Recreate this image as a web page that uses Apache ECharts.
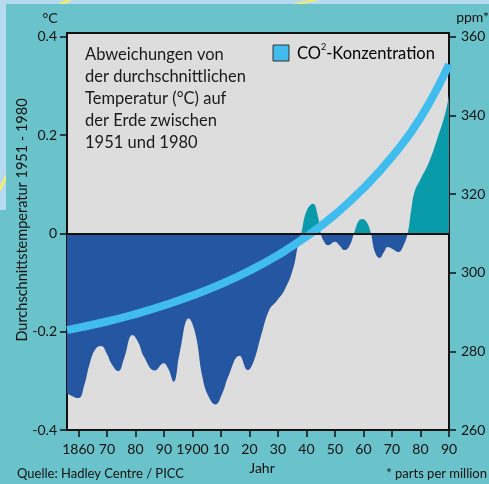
<!DOCTYPE html>
<html lang="de" style="height: 100%">
<head>
  <meta charset="UTF-8">
  <title>Temperaturabweichung und CO2-Konzentration</title>
  <script src="https://cdn.jsdelivr.net/npm/echarts@6/dist/echarts.min.js"></script>
</head>
<body style="height: 100%; margin: 0; background-color: #6ac3ca;">
  <div id="main" style="width: 489px; height: 484px;"></div>

  <script>
  // Jahre und Temperaturabweichung (°C) gegenüber 1951-1980
  const tempYears = [1856, 1860, 1862, 1864, 1866, 1868, 1870, 1871.5, 1874, 1876, 1879, 1881, 1883, 1886.8, 1889.9, 1891.5, 1893.4, 1895.5, 1898.7, 1901, 1903.5, 1905.5, 1908, 1910.5, 1912.5, 1916.5, 1919.4, 1921.5, 1924, 1927, 1929.5, 1932.4, 1935.3, 1937, 1938.2, 1940, 1942.3, 1944, 1945, 1946.3, 1947.6, 1950, 1951.5, 1953.4, 1955.2, 1956.7, 1958.2, 1959.6, 1961.2, 1962.6, 1964, 1965.7, 1967.2, 1968.5, 1970.2, 1972.2, 1974, 1975.5, 1976.8, 1978, 1980, 1983, 1986.3, 1988.5, 1990];
  const tempValues = [-0.325, -0.335, -0.31, -0.264, -0.235, -0.229, -0.245, -0.264, -0.28, -0.255, -0.207, -0.222, -0.251, -0.279, -0.264, -0.275, -0.302, -0.244, -0.173, -0.203, -0.292, -0.33, -0.348, -0.325, -0.292, -0.249, -0.278, -0.26, -0.21, -0.155, -0.138, -0.114, -0.072, -0.025, 0, 0.045, 0.06, 0.035, 0, -0.018, -0.024, -0.017, -0.024, -0.034, -0.024, 0, 0.024, 0.029, 0.022, 0, -0.038, -0.05, -0.038, -0.028, -0.032, -0.038, -0.025, 0, 0.05, 0.086, 0.11, 0.145, 0.2, 0.24, 0.28];

  // CO2-Konzentration (ppm)
  const co2Years = [1856, 1870, 1880, 1890, 1900, 1910, 1920, 1930, 1940, 1950, 1960, 1970, 1980, 1990];
  const co2Values = [285.4, 287.6, 289.5, 291.7, 294.2, 297.1, 300.5, 304.5, 309.2, 314.8, 321.5, 329.5, 339.4, 353];

  // Achsenbeschriftungen
  const xTicks = [1860, 1870, 1880, 1890, 1900, 1910, 1920, 1930, 1940, 1950, 1960, 1970, 1980, 1990];
  const tempTicks = [-0.4, -0.2, 0, 0.2, 0.4];
  const ppmTicks = [260, 280, 300, 320, 340, 360];

  const FONT = 'Lato';
  const chart = echarts.init(document.getElementById('main'));

  const option = {
    backgroundColor: '#6ac3ca',
    textStyle: { fontFamily: FONT },
    grid: {
      left: 67, right: 40, top: 33, bottom: 54,
      show: true,
      backgroundColor: '#dddddd',
      borderColor: '#111',
      borderWidth: 2
    },
    xAxis: {
      type: 'value',
      min: 1856,
      max: 1990,
      splitLine: { show: false },
      axisLine: { onZero: false, lineStyle: { color: '#111', width: 2 } },
      axisTick: { customValues: xTicks, length: 7, lineStyle: { color: '#111', width: 1.5 } },
      axisLabel: {
        customValues: xTicks,
        margin: 12,
        color: '#111',
        fontSize: 14,
        fontFamily: FONT,
        formatter: function (v) {
          if (v === 1860 || v === 1900) return String(v);
          return String(v % 100).padStart(2, '0');
        }
      }
    },
    yAxis: [
      {
        type: 'value',
        min: -0.4,
        max: 0.4075,
        splitLine: { show: false },
        axisLine: { show: true, onZero: false, lineStyle: { color: '#111', width: 2 } },
        axisTick: { show: true, customValues: tempTicks, length: 7, lineStyle: { color: '#111', width: 1.5 } },
        axisLabel: {
          customValues: tempTicks,
          margin: 10,
          color: '#111',
          fontSize: 14,
          fontFamily: FONT,
          formatter: function (v) { return v === 0 ? '0' : String(v); }
        }
      },
      {
        type: 'value',
        position: 'right',
        min: 260,
        max: 361,
        splitLine: { show: false },
        axisLine: { show: true, onZero: false, lineStyle: { color: '#111', width: 2 } },
        axisTick: { show: true, customValues: ppmTicks, length: 7, lineStyle: { color: '#111', width: 1.5 } },
        axisLabel: {
          customValues: ppmTicks,
          margin: 12,
          color: '#111',
          fontSize: 14,
          fontFamily: FONT
        }
      }
    ],
    visualMap: {
      show: false,
      type: 'piecewise',
      seriesIndex: 0,
      dimension: 1,
      pieces: [
        { gt: -1, lte: 0, color: '#2556a2' },
        { gt: 0, lte: 1, color: '#0a9bab' }
      ]
    },
    series: [
      {
        name: 'Temperatur',
        type: 'line',
        smooth: 0.45,
        showSymbol: false,
        silent: true,
        z: 2,
        lineStyle: { width: 0 },
        areaStyle: { opacity: 1 },
        data: tempYears.map((y, i) => [y, tempValues[i]]),
        markLine: {
          silent: true,
          symbol: 'none',
          label: { show: false },
          lineStyle: { color: '#111', width: 2, type: 'solid' },
          data: [{ yAxis: 0 }]
        }
      },
      {
        name: 'CO2-Konzentration',
        type: 'line',
        yAxisIndex: 1,
        smooth: 0.5,
        showSymbol: false,
        silent: true,
        z: 3,
        lineStyle: { width: 8, color: '#41bcef' },
        data: co2Years.map((y, i) => [y, co2Values[i]])
      }
    ],
    graphic: [
      // Hintergrund-Deko oben/links
      { type: 'rect', shape: { x: 0, y: 0, width: 489, height: 4 }, style: { fill: '#b6dbf1' }, silent: true },
      { type: 'rect', shape: { x: 0, y: 0, width: 6, height: 210 }, style: { fill: '#b6dbf1' }, silent: true },
      { type: 'polygon', shape: { points: [[58, 4], [64, 4], [72, 0], [66, 0]] }, style: { fill: '#f4ee6a' }, silent: true },
      { type: 'polygon', shape: { points: [[292, 4], [302, 4], [320, 0], [310, 0]] }, style: { fill: '#f4ee6a' }, silent: true },
      { type: 'polygon', shape: { points: [[0, 186], [0, 192], [6, 180], [6, 174]] }, style: { fill: '#f4ee6a' }, silent: true },
      // Einheiten
      { type: 'text', x: 50, y: 18, style: { text: '°C', font: '14px Lato', fill: '#111', textAlign: 'center', textVerticalAlign: 'middle' } },
      { type: 'text', x: 489, y: 17, style: { text: 'ppm*', font: '14px Lato', fill: '#111', textAlign: 'right', textVerticalAlign: 'middle' } },
      // Achsentitel
      {
        type: 'text', x: 22, y: 220, rotation: Math.PI / 2,
        style: { text: 'Durchschnittstemperatur 1951 - 1980', font: '14.5px Lato', fill: '#111', textAlign: 'center', textVerticalAlign: 'middle' }
      },
      { type: 'text', x: 262, y: 468, style: { text: 'Jahr', font: '14px Lato', fill: '#111', textAlign: 'center', textVerticalAlign: 'middle' } },
      { type: 'text', x: 17, y: 474, style: { text: 'Quelle: Hadley Centre / PICC', font: '13px Lato', fill: '#111', textAlign: 'left', textVerticalAlign: 'middle' } },
      { type: 'text', x: 487, y: 474, style: { text: '* parts per million', font: '13px Lato', fill: '#111', textAlign: 'right', textVerticalAlign: 'middle' } },
      // Titelblock
      {
        type: 'text', x: 85, y: 44, z: 10,
        style: {
          text: 'Abweichungen von\nder durchschnittlichen\nTemperatur (°C) auf\nder Erde zwischen\n1951 und 1980',
          font: '16.5px Lato', lineHeight: 22, fill: '#1a1a1a', textAlign: 'left', textVerticalAlign: 'top'
        }
      },
      // Legende
      { type: 'rect', z: 10, shape: { x: 273, y: 45, width: 16, height: 16 }, style: { fill: '#41bcef', stroke: '#333', lineWidth: 1 } },
      {
        type: 'text', x: 297, y: 54, z: 10,
        style: {
          text: '{a|CO}{s|2}{a|-Konzentration}',
          textVerticalAlign: 'middle',
          rich: {
            a: { fontFamily: FONT, fontSize: 16.5, color: '#1a1a1a', lineHeight: 22 },
            s: { fontFamily: FONT, fontSize: 9, color: '#1a1a1a', verticalAlign: 'top', lineHeight: 22 }
          }
        }
      }
    ]
  };

  chart.setOption(option);
  </script>
</body>
</html>
